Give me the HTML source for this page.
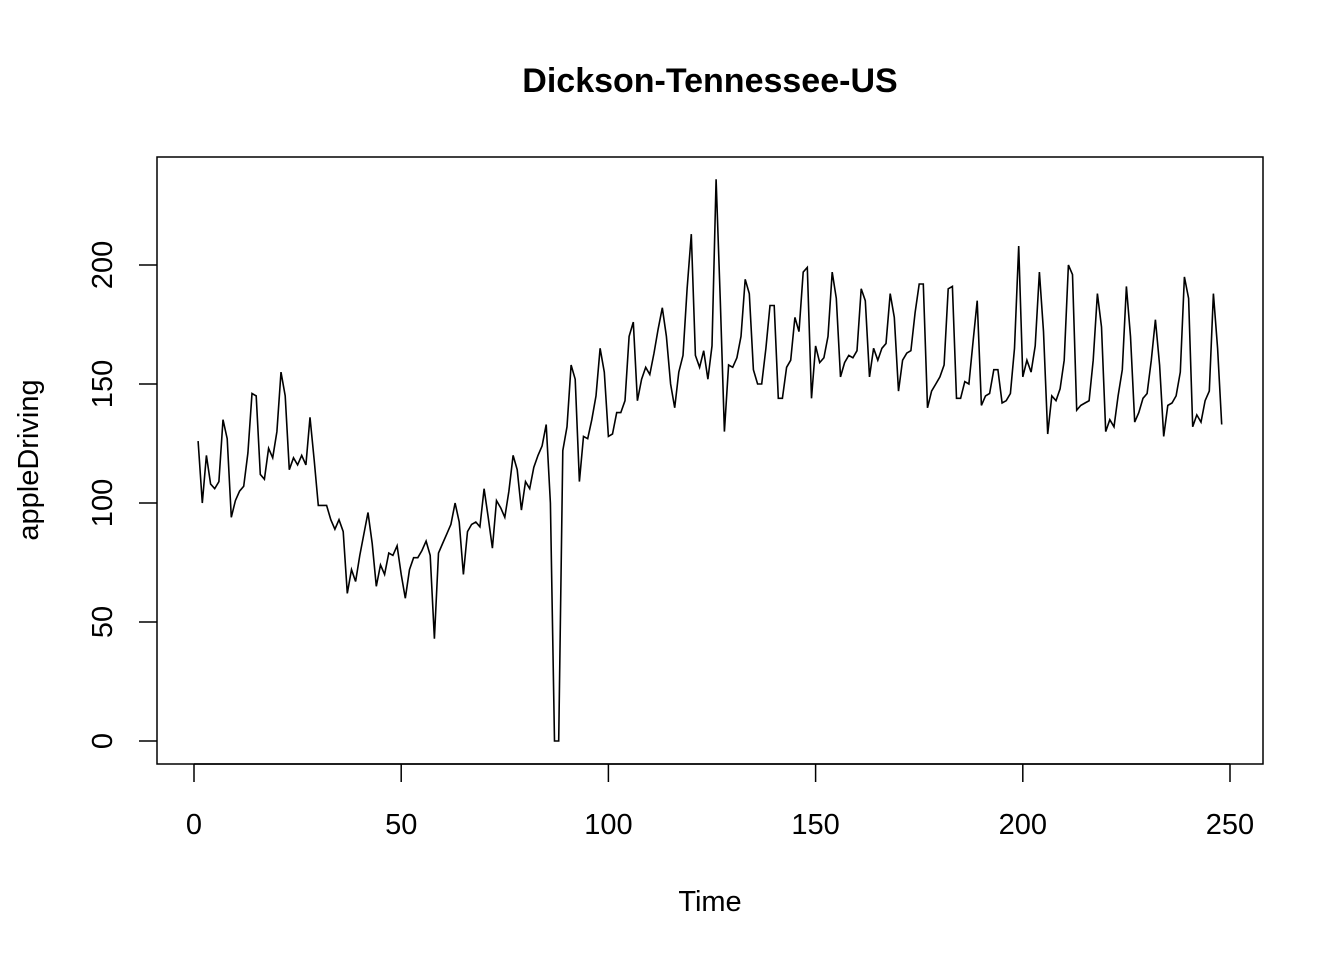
<!DOCTYPE html>
<html><head><meta charset="utf-8"><style>
body{margin:0;background:#fff}
svg{display:block;font-family:"Liberation Sans",Arial,sans-serif}
</style></head><body>
<svg id="chart" width="1344" height="960" viewBox="0 0 1344 960">
<text x="710" y="92" font-size="34" font-weight="bold" text-anchor="middle">Dickson-Tennessee-US</text>
<rect x="157" y="157" width="1106" height="607" fill="none" stroke="#000" stroke-width="1.5"/>
<text x="710" y="911" font-size="29" text-anchor="middle">Time</text>
<text transform="translate(38,460) rotate(-90)" font-size="29" text-anchor="middle">appleDriving</text>
<g id="axes"></g>
<path id="line" fill="none" stroke="#000" stroke-width="1.6"/>
</svg>
<script>
const xTicks=[0,50,100,150,200,250];
const yTicks=[0,50,100,150,200];
const values=[126,100,120,108,106,109,135,127,94,101,105,107,121,146,145,112,110,123,119,130,155,145,114,119,116,120,116,136,118,99,99,99,93,89,93,88,62,72,67,78,87,96,83,65,74,70,79,78,82,70,60,72,77,77,80,84,78,43,79,83,87,91,100,92,70,88,91,92,90,106,94,81,101,98,94,105,120,114,97,109,106,115,120,124,133,100,0,0,122,132,158,152,109,128,127,135,145,165,155,128,129,138,138,143,170,176,143,152,157,154,163,173,182,170,150,140,155,162,190,213,162,157,164,152,166,236,185,130,158,157,161,170,194,188,156,150,150,165,183,183,144,144,157,160,178,172,197,199,144,166,159,161,170,197,186,153,159,162,161,164,190,185,153,165,160,165,167,188,178,147,160,163,164,180,192,192,140,147,150,153,158,190,191,144,144,151,150,168,185,141,145,146,156,156,142,143,146,165,208,153,160,155,166,197,172,129,145,143,148,160,200,196,139,141,142,143,160,188,174,130,135,132,145,156,191,170,134,138,144,146,160,177,158,128,141,142,145,155,195,186,132,137,134,143,147,188,165,133];
const X=v=>194+v*(1230-194)/250;
const Y=v=>741-v*(741-265)/200;
const ns="http://www.w3.org/2000/svg";
const g=document.getElementById('axes');
function mk(t,a){const e=document.createElementNS(ns,t);for(const k in a)e.setAttribute(k,a[k]);g.appendChild(e);return e;}
const xl=mk('line',{x1:X(0),x2:X(250),y1:764,y2:764,stroke:'#000','stroke-width':1.5});


xTicks.forEach(t=>{
 const l=mk('line',{x1:X(t),x2:X(t),y1:764,y2:782,stroke:'#000','stroke-width':1.5});
 
 
 const tx=mk('text',{x:X(t),y:834,'font-size':29,'text-anchor':'middle'});
 tx.textContent=t;
 
 
});
yTicks.forEach(t=>{
 const l=mk('line',{x1:139,x2:157,y1:Y(t),y2:Y(t),stroke:'#000','stroke-width':1.5});
 
 
 const tx=mk('text',{transform:`translate(112,${Y(t)}) rotate(-90)`,'font-size':29,'text-anchor':'middle'});
 tx.textContent=t;
 
 
});
document.getElementById('line').setAttribute('d',values.map((v,i)=>(i?'L':'M')+X(i+1).toFixed(1)+','+Y(v).toFixed(1)).join(''));
</script>
</body></html>
